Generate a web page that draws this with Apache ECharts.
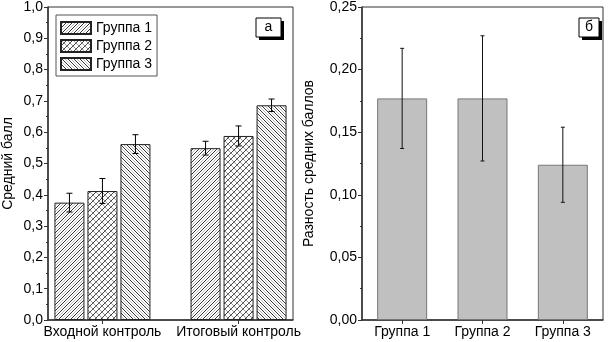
<!DOCTYPE html>
<html>
<head>
<meta charset="utf-8">
<script src="https://cdn.jsdelivr.net/npm/echarts@6/dist/echarts.min.js"></script>
<style>
  html, body { margin: 0; padding: 0; background: #fff; }
  #chart { width: 608px; height: 342px; }
</style>
</head>
<body>
<div id="chart"></div>
<script>
// панель а
const stageNames = ['Входной контроль', 'Итоговый контроль']
const stagePos = [1, 2]
const groupNames = ['Группа 1', 'Группа 2', 'Группа 3']
const meanG1 = [0.375, 0.549]
const meanG2 = [0.412, 0.588]
const meanG3 = [0.562, 0.686]
const errG1 = [0.03, 0.022]
const errG2 = [0.04, 0.032]
const errG3 = [0.03, 0.02]

// панель б
const diffCats = ['Группа 1', 'Группа 2', 'Группа 3']
const diffVals = [0.177, 0.177, 0.124]
const diffErr = [0.04, 0.05, 0.03]

const FONT = 'Liberation Sans, Arial, sans-serif'

// штриховки
function hatch(type) {
  const s = 6
  const c = document.createElement('canvas')
  c.width = s
  c.height = s
  const ctx = c.getContext('2d')
  ctx.fillStyle = '#fff'
  ctx.fillRect(0, 0, s, s)
  ctx.lineWidth = 1
  function diag(dir, color, shift) {
    ctx.strokeStyle = color
    for (let o = -2 * s; o <= 2 * s; o += s) {
      ctx.beginPath()
      if (dir > 0) {
        ctx.moveTo(o + shift, s)
        ctx.lineTo(o + shift + s, 0)
      } else {
        ctx.moveTo(o + shift, 0)
        ctx.lineTo(o + shift + s, s)
      }
      ctx.stroke()
    }
  }
  if (type === 1) {
    diag(1, '#333', 0)
    diag(1, '#bbb', 3)
  } else if (type === 2) {
    diag(1, '#444', 0)
    diag(-1, '#999', 0)
  } else {
    diag(-1, '#333', 0)
    diag(-1, '#bbb', 3)
  }
  return { image: c, repeat: 'repeat' }
}

const means = [meanG1, meanG2, meanG3]
const errs = [errG1, errG2, errG3]
const barW = 30
const barStep = 33

const errLeft = []
means.forEach((m, gi) => {
  m.forEach((v, si) => errLeft.push([stagePos[si], v, errs[gi][si], gi]))
})
const errRight = diffVals.map((v, i) => [i, v, diffErr[i]])

function errItem(capHalf, offsetFn, color) {
  return function (params, api) {
    const x = api.value(0)
    const y = api.value(1)
    const e = api.value(2)
    const off = offsetFn(api)
    const top = api.coord([x, y + e])
    const bot = api.coord([x, y - e])
    const cx = top[0] + off
    const style = { stroke: color, lineWidth: 1 }
    return {
      type: 'group',
      children: [
        { type: 'line', shape: { x1: cx, y1: top[1], x2: cx, y2: bot[1] }, style },
        { type: 'line', shape: { x1: cx - capHalf, y1: top[1], x2: cx + capHalf, y2: top[1] }, style },
        { type: 'line', shape: { x1: cx - capHalf, y1: bot[1], x2: cx + capHalf, y2: bot[1] }, style },
      ],
    }
  }
}

// метка панели (а / б) с тенью
function panelTag(text, x, y, w, h) {
  return {
    type: 'group',
    left: x,
    top: y,
    children: [
      { type: 'rect', shape: { x: 3, y: 3, width: w, height: h }, style: { fill: '#000' } },
      { type: 'rect', shape: { x: 0, y: 0, width: w, height: h }, style: { fill: '#fff', stroke: '#000', lineWidth: 1 } },
      {
        type: 'text', x: w / 2, y: h / 2,
        style: { text, fill: '#000', font: '14px ' + FONT, align: 'center', verticalAlign: 'middle' },
      },
    ],
  }
}

const axisLine = { show: true, lineStyle: { color: '#333', width: 1.5 } }
const labelStyle = { color: '#000', fontSize: 14, fontFamily: FONT }

const myChart = echarts.init(document.getElementById('chart'))
const option = {
  animation: false,
  textStyle: { fontFamily: FONT },
  graphic: [
    panelTag('а', 255.5, 17.5, 25, 19),
    panelTag('б', 578.5, 17.5, 20, 19),
  ],
  legend: {
    data: groupNames,
    left: 56,
    top: 15,
    orient: 'vertical',
    itemWidth: 30,
    itemHeight: 12,
    itemGap: 4,
    padding: [6, 5, 5, 4],
    borderColor: '#555',
    borderWidth: 1,
    icon: 'rect',
    textStyle: { color: '#000', fontSize: 14, fontFamily: FONT },
  },
  grid: [
    { left: 48, top: 6, right: 315, bottom: 22, show: true, borderColor: '#333', borderWidth: 1 },
    { left: 362, top: 6, right: 5, bottom: 22, show: true, borderColor: '#333', borderWidth: 1 },
  ],
  xAxis: [
    {
      type: 'value',
      gridIndex: 0,
      min: 0.6,
      max: 2.4,
      splitLine: { show: false },
      axisLine,
      axisTick: { show: true, length: 4, customValues: stagePos, lineStyle: { color: '#333' } },
      axisLabel: {
        ...labelStyle,
        margin: 5,
        customValues: stagePos,
        formatter: (v) => stageNames[stagePos.indexOf(v)] || '',
      },
    },
    {
      type: 'category',
      gridIndex: 1,
      data: diffCats,
      axisLine,
      axisTick: { show: true, length: 4, alignWithLabel: true, lineStyle: { color: '#333' } },
      axisLabel: { ...labelStyle, margin: 5 },
    },
  ],
  yAxis: [
    {
      type: 'value',
      gridIndex: 0,
      min: 0,
      max: 1,
      interval: 0.1,
      name: 'Средний балл',
      nameLocation: 'middle',
      nameGap: 33,
      nameTextStyle: { ...labelStyle },
      splitLine: { show: false },
      axisLine,
      axisTick: { show: true, length: 4, lineStyle: { color: '#333' } },
      minorTick: { show: true, splitNumber: 2, length: 2, lineStyle: { color: '#333' } },
      axisLabel: { ...labelStyle, margin: 5, formatter: (v) => v.toFixed(1).replace('.', ',') },
    },
    {
      type: 'value',
      gridIndex: 1,
      min: 0,
      max: 0.25,
      interval: 0.05,
      name: 'Разность средних баллов',
      nameLocation: 'middle',
      nameGap: 46,
      nameTextStyle: { ...labelStyle },
      splitLine: { show: false },
      axisLine,
      axisTick: { show: true, length: 4, lineStyle: { color: '#333' } },
      minorTick: { show: true, splitNumber: 2, length: 2, lineStyle: { color: '#333' } },
      axisLabel: { ...labelStyle, margin: 5, formatter: (v) => v.toFixed(2).replace('.', ',') },
    },
  ],
  series: [
    ...means.map((m, gi) => ({
      name: groupNames[gi],
      type: 'bar',
      xAxisIndex: 0,
      yAxisIndex: 0,
      barWidth: barW,
      barGap: '10%',
      itemStyle: { color: hatch(gi + 1), borderColor: '#222', borderWidth: 1 },
      data: m.map((v, si) => [stagePos[si], v]),
    })),
    {
      type: 'custom',
      xAxisIndex: 0,
      yAxisIndex: 0,
      z: 5,
      renderItem: errItem(3, (api) => (api.value(3) - 1) * barStep, '#000'),
      encode: { x: 0, y: 1 },
      data: errLeft,
    },
    {
      name: 'Разность',
      type: 'bar',
      xAxisIndex: 1,
      yAxisIndex: 1,
      barWidth: 50,
      itemStyle: { color: '#c0c0c0', borderColor: '#777', borderWidth: 1 },
      data: diffVals,
    },
    {
      type: 'custom',
      xAxisIndex: 1,
      yAxisIndex: 1,
      z: 5,
      renderItem: errItem(2, () => 0, '#111'),
      encode: { x: 0, y: 1 },
      data: errRight,
    },
  ],
}

option && myChart.setOption(option)
window.addEventListener('resize', function () {
  myChart.resize()
})
</script>
</body>
</html>
